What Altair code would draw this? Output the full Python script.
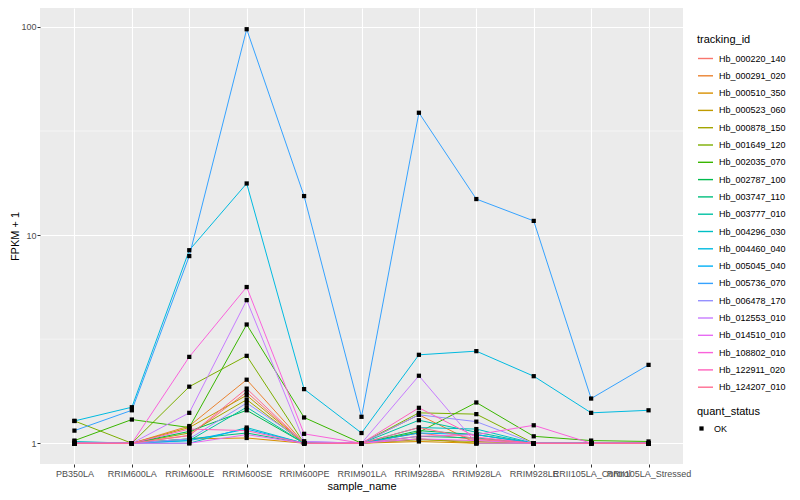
import altair as alt
import pandas as pd

samples = ["PB350LA", "RRIM600LA", "RRIM600LE", "RRIM600SE", "RRIM600PE", "RRIM901LA",
           "RRIM928BA", "RRIM928LA", "RRIM928LE", "RRII105LA_Control", "RRII105LA_Stressed"]

tracking_ids = ["Hb_000220_140", "Hb_000291_020", "Hb_000510_350", "Hb_000523_060", "Hb_000878_150",
                "Hb_001649_120", "Hb_002035_070", "Hb_002787_100", "Hb_003747_110", "Hb_003777_010",
                "Hb_004296_030", "Hb_004460_040", "Hb_005045_040", "Hb_005736_070", "Hb_006478_170",
                "Hb_012553_010", "Hb_014510_010", "Hb_108802_010", "Hb_122911_020", "Hb_124207_010"]

colors = ["#F8766D", "#EA8331", "#D89000", "#C09B00", "#A3A500", "#7CAE00", "#39B600", "#00BB4E",
          "#00BF7D", "#00C1A3", "#00BFC4", "#00BAE0", "#00B0F6", "#35A2FF", "#9590FF", "#C77CFF",
          "#E76BF3", "#FA62DB", "#FF62BC", "#FF6C91"]

Hb_000220_140 = [1.0, 1.0, 1.09, 1.76, 1.0, 1.0, 1.12, 1.04, 1.0, 1.0, 1.0]
Hb_000291_020 = [1.0, 1.0, 1.21, 2.02, 1.0, 1.0, 1.37, 1.0, 1.0, 1.0, 1.0]
Hb_000510_350 = [1.0, 1.0, 1.05, 1.06, 1.0, 1.0, 1.02, 1.0, 1.0, 1.0, 1.0]
Hb_000523_060 = [1.0, 1.0, 1.19, 1.70, 1.0, 1.0, 1.05, 1.0, 1.0, 1.0, 1.0]
Hb_000878_150 = [1.0, 1.0, 1.12, 1.62, 1.0, 1.0, 1.04, 1.02, 1.0, 1.0, 1.0]
Hb_001649_120 = [1.28, 1.0, 1.87, 2.63, 1.0, 1.0, 1.40, 1.38, 1.0, 1.0, 1.0]
Hb_002035_070 = [1.03, 1.30, 1.19, 3.72, 1.33, 1.0, 1.13, 1.57, 1.08, 1.03, 1.02]
Hb_002787_100 = [1.0, 1.0, 1.14, 1.44, 1.0, 1.0, 1.15, 1.10, 1.0, 1.0, 1.0]
Hb_003747_110 = [1.0, 1.0, 1.05, 1.12, 1.0, 1.0, 1.08, 1.06, 1.0, 1.0, 1.0]
Hb_003777_010 = [1.0, 1.0, 1.03, 1.49, 1.0, 1.0, 1.29, 1.13, 1.0, 1.0, 1.0]
Hb_004296_030 = [1.02, 1.0, 1.0, 1.19, 1.0, 1.0, 1.19, 1.17, 1.0, 1.0, 1.0]
Hb_004460_040 = [1.28, 1.49, 8.46, 17.7, 1.82, 1.12, 2.66, 2.77, 2.10, 1.40, 1.44]
Hb_005045_040 = [1.0, 1.0, 1.03, 1.17, 1.0, 1.0, 1.12, 1.10, 1.0, 1.0, 1.0]
Hb_005736_070 = [1.15, 1.44, 7.93, 97.5, 15.4, 1.34, 38.7, 14.9, 11.7, 1.64, 2.38]
Hb_006478_170 = [1.0, 1.0, 1.05, 1.56, 1.02, 1.0, 1.37, 1.27, 1.0, 1.0, 1.0]
Hb_012553_010 = [1.0, 1.0, 1.40, 4.87, 1.02, 1.0, 2.11, 1.0, 1.0, 1.0, 1.0]
Hb_014510_010 = [1.0, 1.0, 1.0, 1.10, 1.0, 1.0, 1.05, 1.03, 1.0, 1.0, 1.0]
Hb_108802_010 = [1.0, 1.0, 2.60, 5.63, 1.11, 1.0, 1.08, 1.10, 1.22, 1.0, 1.0]
Hb_122911_020 = [1.0, 1.0, 1.17, 1.15, 1.0, 1.0, 1.48, 1.07, 1.0, 1.0, 1.0]
Hb_124207_010 = [1.0, 1.0, 1.09, 1.83, 1.0, 1.0, 1.19, 1.05, 1.0, 1.0, 1.0]

series = [Hb_000220_140, Hb_000291_020, Hb_000510_350, Hb_000523_060, Hb_000878_150,
          Hb_001649_120, Hb_002035_070, Hb_002787_100, Hb_003747_110, Hb_003777_010,
          Hb_004296_030, Hb_004460_040, Hb_005045_040, Hb_005736_070, Hb_006478_170,
          Hb_012553_010, Hb_014510_010, Hb_108802_010, Hb_122911_020, Hb_124207_010]

y_ticks = [1, 10, 100]
minor_breaks = [3.1623, 31.623]

rows = []
for tid, vals in zip(tracking_ids, series):
    for s, v in zip(samples, vals):
        rows.append({"tracking_id": tid, "sample_name": s, "fpkm1": v, "quant_status": "OK"})
df = pd.DataFrame(rows)
minor_df = pd.DataFrame({"fpkm1": minor_breaks})

FONT = "Liberation Sans"

x_axis = alt.Axis(labelAngle=0, grid=True, gridColor="white", gridWidth=1.1,
                  domain=False, tickColor="#333333", tickSize=3,
                  labelColor="#4D4D4D", labelFontSize=9, labelPadding=2,
                  titleFontSize=11, titleColor="black", titlePadding=2,
                  titleFontWeight="normal")
y_axis = alt.Axis(values=y_ticks, format="d", grid=True, gridColor="white",
                  gridWidth=1.1, domain=False, tickColor="#333333", tickSize=3,
                  labelColor="#4D4D4D", labelFontSize=9, labelPadding=1,
                  titleFontSize=11, titleColor="black", titlePadding=0,
                  titleFontWeight="normal")
y_scale = alt.Scale(type="log", domain=[0.795, 123.3], nice=False)

x_enc = alt.X("sample_name:N", sort=samples, title="sample_name",
              scale=alt.Scale(padding=0.6), axis=x_axis)
y_enc = alt.Y("fpkm1:Q", title="FPKM + 1", scale=y_scale, axis=y_axis)

minor = alt.Chart(minor_df).mark_rule(color="white", strokeWidth=0.5).encode(y=y_enc)

lines = alt.Chart(df).mark_line(strokeWidth=1).encode(
    x=x_enc, y=y_enc,
    color=alt.Color("tracking_id:N", scale=alt.Scale(domain=tracking_ids, range=colors),
                    legend=alt.Legend(title="tracking_id", orient="none", legendX=657, legendY=26,
                                      symbolType="stroke", symbolSize=225, symbolStrokeWidth=1.4,
                                      rowPadding=3.3, titlePadding=5, labelFontSize=9,
                                      titleFontSize=11, labelColor="black", labelOffset=5,
                                      titleFontWeight="normal")),
    detail="tracking_id:N")

points = alt.Chart(df).mark_point(filled=True, color="black", size=18, opacity=1).encode(
    x=x_enc, y=y_enc,
    shape=alt.Shape("quant_status:N", scale=alt.Scale(domain=["OK"], range=["square"]),
                    legend=alt.Legend(title="quant_status", orient="none", legendX=657, legendY=398,
                                      symbolSize=18, symbolFillColor="black", symbolStrokeColor="black",
                                      titlePadding=7, labelFontSize=9, titleFontSize=11,
                                      labelColor="black", labelOffset=8, titleFontWeight="normal")))

chart = alt.layer(minor, lines, points).properties(
    width=643, height=456,
    autosize=alt.AutoSizeParams(type="none"),
    padding={"left": 32, "top": 0, "right": 109, "bottom": 28},
).configure(font=FONT).configure_view(fill="#EBEBEB", stroke=None)

chart.save("out.html", embed_options={"renderer": "svg", "actions": False})
